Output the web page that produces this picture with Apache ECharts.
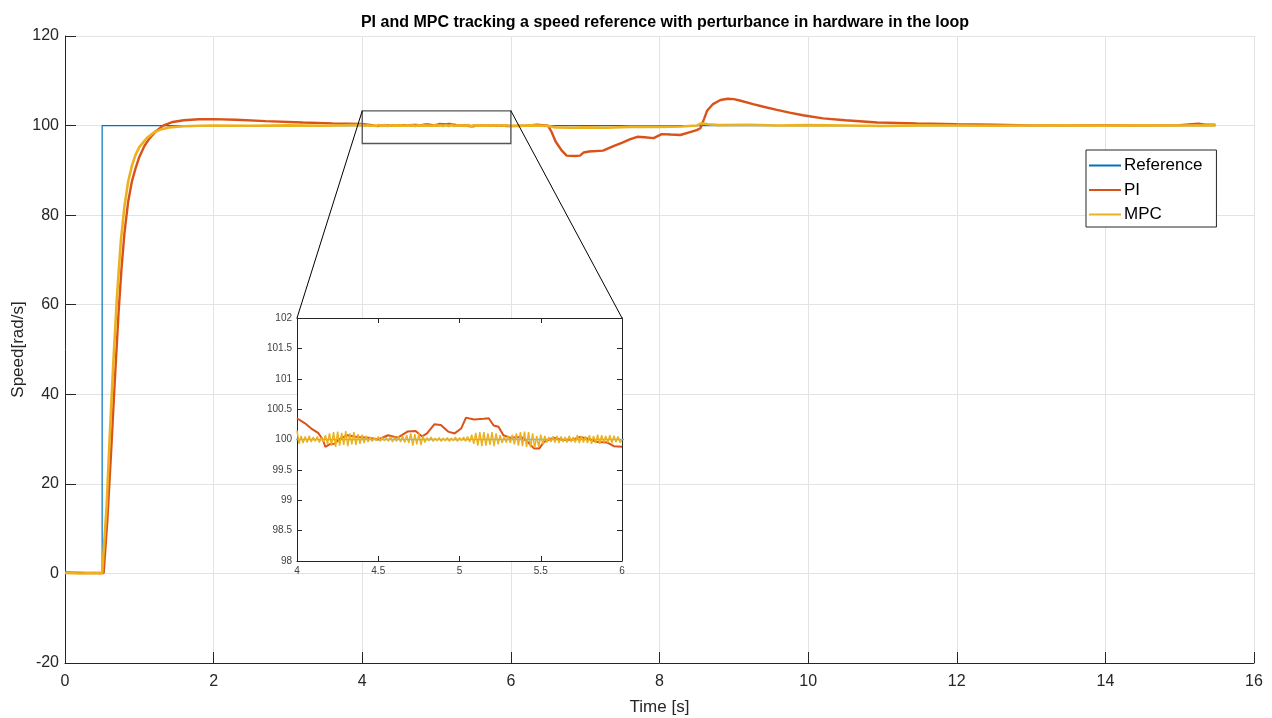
<!DOCTYPE html>
<html>
<head>
<meta charset="utf-8">
<title>PI and MPC speed tracking</title>
<script src="https://cdn.jsdelivr.net/npm/echarts@6.0.0/dist/echarts.min.js"></script>
<style>
  html, body { margin: 0; padding: 0; background: #fff; }
  #chart { width: 1272px; height: 718px; }
</style>
</head>
<body>
<div id="chart"></div>
<script>
// 曲线数据 (时间 s, 速度 rad/s)
var referenceData = [[0, 0], [0.5, 0], [0.5, 100], [15.48, 100]];

// PI 在放大区间以外的点
var piBefore = [
  [0, 0.2], [0.3, 0.1], [0.52, 0.1], [0.57, 12], [0.62, 27], [0.67, 43], [0.72, 58],
  [0.76, 68], [0.8, 76], [0.85, 83], [0.9, 87.5], [0.95, 90.5], [1.0, 93], [1.07, 95.5],
  [1.14, 97.2], [1.22, 98.7], [1.32, 100], [1.45, 100.8], [1.6, 101.2], [1.8, 101.4],
  [2.0, 101.45], [2.3, 101.3], [2.7, 101.0], [3.2, 100.7], [3.6, 100.5]
];
var piAfter = [
  [6.2, 99.95], [6.35, 100.2], [6.5, 100.0], [6.55, 98.5], [6.6, 96.5], [6.68, 94.5],
  [6.75, 93.3], [6.85, 93.2], [6.93, 93.3], [6.98, 94.0], [7.05, 94.2], [7.24, 94.4],
  [7.38, 95.4], [7.5, 96.2], [7.6, 96.9], [7.7, 97.5], [7.8, 97.4], [7.92, 97.2],
  [8.03, 98.1], [8.15, 98.0], [8.28, 97.9], [8.4, 98.5], [8.5, 99.0], [8.55, 99.4],
  [8.6, 101.5], [8.64, 103.3], [8.72, 104.8], [8.82, 105.7], [8.92, 106.0], [9.0, 105.9],
  [9.08, 105.6], [9.26, 104.8], [9.4, 104.2], [9.58, 103.5], [9.75, 102.9], [9.93, 102.3],
  [10.2, 101.6], [10.5, 101.2], [10.93, 100.7], [11.46, 100.5], [12, 100.3], [12.5, 100.2],
  [13, 100.05], [13.5, 100.1], [14, 100], [14.5, 100.05], [15, 100.1], [15.25, 100.4],
  [15.35, 100.2], [15.48, 100.2]
];
// PI 在 4~6 s 放大区间内
var piZoom = [
  [4.0, 100.35], [4.047, 100.27], [4.088, 100.18], [4.13, 100.11], [4.16, 99.99],
  [4.174, 99.88], [4.2, 99.92], [4.23, 99.93], [4.27, 100.02], [4.31, 100.07],
  [4.37, 100.04], [4.44, 100.03], [4.5, 100.0], [4.56, 100.07], [4.62, 100.03],
  [4.68, 100.13], [4.73, 100.14], [4.77, 100.05], [4.8, 100.1], [4.845, 100.25],
  [4.885, 100.24], [4.93, 100.13], [4.97, 100.1], [5.01, 100.18], [5.04, 100.36],
  [5.09, 100.33], [5.15, 100.34], [5.18, 100.35], [5.21, 100.23], [5.24, 100.21],
  [5.27, 100.07], [5.31, 100.03], [5.38, 100.04], [5.42, 99.96], [5.46, 99.85],
  [5.49, 99.85], [5.52, 99.96], [5.58, 100.03], [5.64, 99.99], [5.7, 100.0],
  [5.74, 100.04], [5.78, 100.02], [5.85, 99.96], [5.91, 99.95], [5.95, 99.89], [6.0, 99.88]
];

// MPC 在放大区间以外的点
var mpcBefore = [
  [0, 0.1], [0.2, 0], [0.4, 0.1], [0.5, 0], [0.52, 0.2], [0.56, 15], [0.6, 30],
  [0.65, 47], [0.7, 62], [0.75, 74], [0.8, 82], [0.85, 87.5], [0.9, 91], [0.95, 93.5],
  [1.0, 95.2], [1.1, 97.2], [1.2, 98.5], [1.3, 99.2], [1.4, 99.6], [1.6, 99.85],
  [1.8, 99.95], [2.0, 100], [2.5, 99.95], [3.0, 100.05], [3.5, 99.95]
];
var mpcAfter = [
  [6.3, 100.05], [6.5, 99.9], [6.6, 99.6], [6.8, 99.5], [7.0, 99.6], [7.3, 99.5],
  [7.6, 99.7], [8.0, 99.7], [8.3, 99.8], [8.5, 100.0], [8.56, 100.5], [8.65, 100.3],
  [8.8, 100.1], [9.2, 100.2], [9.6, 100], [10, 100.1], [10.5, 100], [11, 99.9],
  [11.5, 100.05], [12, 100], [12.5, 99.95], [13, 100], [13.5, 100.05], [14, 99.95],
  [14.5, 100.05], [15, 100], [15.48, 100.05]
];
// MPC 在 4~6 s 内，采样步长 0.0125 s
var mpcZoomStart = 4, mpcZoomStep = 0.0125;
var mpcZoomValues = [
  100.15, 99.93, 100.06, 99.94, 100.05, 99.95, 100.06, 99.96,
  100.04, 99.97, 100.05, 99.95, 100.03, 99.96, 100.07, 99.93,
  100.1, 99.9, 100.12, 99.88, 100.13, 99.9, 100.11, 99.91,
  100.14, 99.89, 100.1, 99.92, 100.12, 99.91, 100.09, 99.93,
  100.08, 99.94, 100.06, 99.96, 100.04, 99.97, 100.03, 99.98,
  100.05, 99.97, 100.04, 99.98, 100.03, 99.97, 100.05, 99.96,
  100.04, 99.97, 100.05, 99.96, 100.06, 99.95, 100.07, 99.94,
  100.1, 99.9, 100.09, 99.92, 100.1, 99.91, 100.06, 99.95,
  100.03, 99.98, 100.04, 99.97, 100.02, 99.98, 100.03, 99.97,
  100.02, 99.98, 100.03, 99.97, 100.02, 99.98, 100.04, 99.97,
  100.03, 99.98, 100.04, 99.97, 100.05, 99.96, 100.08, 99.93,
  100.11, 99.9, 100.12, 99.89, 100.12, 99.9, 100.1, 99.91,
  100.12, 99.89, 100.1, 99.92, 100.07, 99.94, 100.05, 99.95,
  100.06, 99.94, 100.08, 99.92, 100.1, 99.9, 100.12, 99.89,
  100.13, 99.88, 100.12, 99.87, 100.1, 99.86, 100.06, 99.88,
  100.08, 99.92, 100.06, 99.95, 100.04, 99.96, 100.05, 99.95,
  100.06, 99.94, 100.05, 99.96, 100.04, 99.95, 100.06, 99.96,
  100.04, 99.95, 100.07, 99.94, 100.06, 99.95, 100.05, 99.94,
  100.07, 99.93, 100.06, 99.94, 100.08, 99.93, 100.07, 99.95,
  100.06, 99.95, 100.07, 99.94, 100.06, 99.96, 100.05, 99.95, 100.0
];
var mpcZoom = mpcZoomValues.map(function (v, i) {
  return [+(mpcZoomStart + i * mpcZoomStep).toFixed(4), v];
});

// 刻度
var xTicks = { min: 0, max: 16, interval: 2 };
var yTicks = { min: -20, max: 120, interval: 20 };
var zoomX = { min: 4, max: 6, interval: 0.5 };
var zoomY = { min: 98, max: 102, interval: 0.5 };
// 主图上的放大框 (数据坐标)
var zoomBox = { x0: 4, x1: 6, y0: 96, y1: 103.3 };

var piData = piBefore.concat(piZoom, piAfter);
var mpcData = mpcBefore.concat(mpcZoom, mpcAfter);

var COLOR_REF = '#0072BD', COLOR_PI = '#D95319', COLOR_MPC = '#EDB120';
var FONT = 'Liberation Sans, Arial, Helvetica, sans-serif';
var AXIS_COLOR = '#262626';

var chart = echarts.init(document.getElementById('chart'));

function insetAxis(extra) {
  return Object.assign({
    type: 'value',
    gridIndex: 1,
    z: 5,
    axisLine: { show: true, onZero: false, lineStyle: { color: AXIS_COLOR, width: 1 } },
    axisTick: { show: true, inside: true, length: 5, lineStyle: { color: AXIS_COLOR } },
    axisLabel: { show: true, fontSize: 10, color: '#404040', fontFamily: FONT, margin: 5 },
    splitLine: { show: false }
  }, extra);
}

var option = {
  animation: false,
  backgroundColor: '#fff',
  title: {
    text: 'PI and MPC tracking a speed reference with perturbance in hardware in the loop',
    left: 660,
    textAlign: 'center',
    top: 10,
    textStyle: { fontFamily: FONT, fontSize: 16, fontWeight: 'bold', color: '#000' }
  },
  legend: {
    orient: 'vertical',
    left: 1086,
    top: 150,
    padding: [6, 14, 3, 3],
    icon: 'rect',
    itemWidth: 32,
    itemHeight: 2,
    itemGap: 5.5,
    backgroundColor: '#fff',
    borderColor: AXIS_COLOR,
    borderWidth: 1,
    borderRadius: 0,
    textStyle: { fontFamily: FONT, fontSize: 17, color: '#000', lineHeight: 19, padding: [0, 0, 0, -2] },
    data: ['Reference', 'PI', 'MPC']
  },
  grid: [
    { left: 65, top: 36, width: 1189, height: 627, outerBoundsMode: 'none', containLabel: false },
    { left: 297, top: 318, width: 325, height: 243, outerBoundsMode: 'none', containLabel: false }
  ],
  xAxis: [
    {
      type: 'value', gridIndex: 0,
      min: xTicks.min, max: xTicks.max, interval: xTicks.interval,
      name: 'Time [s]', nameLocation: 'middle', nameGap: 36,
      nameTextStyle: { fontFamily: FONT, fontSize: 17, color: AXIS_COLOR },
      axisLine: { show: true, onZero: false, lineStyle: { color: AXIS_COLOR, width: 1 } },
      axisTick: { show: true, inside: true, length: 11, lineStyle: { color: AXIS_COLOR } },
      axisLabel: { fontSize: 16, color: AXIS_COLOR, fontFamily: FONT, margin: 11 },
      splitLine: { show: true, lineStyle: { color: '#e3e3e3', width: 1 } }
    },
    insetAxis({ min: zoomX.min, max: zoomX.max, interval: zoomX.interval, position: 'bottom' }),
    insetAxis({ min: zoomX.min, max: zoomX.max, interval: zoomX.interval, position: 'top',
      axisLabel: { show: false } })
  ],
  yAxis: [
    {
      type: 'value', gridIndex: 0,
      min: yTicks.min, max: yTicks.max, interval: yTicks.interval,
      name: 'Speed[rad/s]', nameLocation: 'middle', nameGap: 38, nameMoveOverlap: false,
      nameTextStyle: { fontFamily: FONT, fontSize: 17, color: AXIS_COLOR },
      axisLine: { show: true, onZero: false, lineStyle: { color: AXIS_COLOR, width: 1 } },
      axisTick: { show: true, inside: true, length: 11, lineStyle: { color: AXIS_COLOR } },
      axisLabel: { fontSize: 16, color: AXIS_COLOR, fontFamily: FONT, margin: 6 },
      splitLine: { show: true, lineStyle: { color: '#e3e3e3', width: 1 } }
    },
    insetAxis({ min: zoomY.min, max: zoomY.max, interval: zoomY.interval, position: 'left' }),
    insetAxis({ min: zoomY.min, max: zoomY.max, interval: zoomY.interval, position: 'right',
      axisLabel: { show: false } })
  ],
  series: [
    // 主图
    { name: 'Reference', type: 'line', xAxisIndex: 0, yAxisIndex: 0, data: referenceData,
      symbol: 'none', lineStyle: { color: COLOR_REF, width: 1.2 }, itemStyle: { color: COLOR_REF }, z: 2 },
    { name: 'PI', type: 'line', xAxisIndex: 0, yAxisIndex: 0, data: piData,
      symbol: 'none', lineStyle: { color: COLOR_PI, width: 2.4 }, itemStyle: { color: COLOR_PI }, z: 3 },
    { name: 'MPC', type: 'line', xAxisIndex: 0, yAxisIndex: 0, data: mpcData,
      symbol: 'none', lineStyle: { color: COLOR_MPC, width: 2.6 }, itemStyle: { color: COLOR_MPC }, z: 4 },
    // 放大图
    { name: 'Reference', type: 'line', xAxisIndex: 1, yAxisIndex: 1, data: referenceData,
      symbol: 'none', clip: true, lineStyle: { color: '#4DBEEE', width: 1.5 }, z: 6 },
    { name: 'PI', type: 'line', xAxisIndex: 1, yAxisIndex: 1, data: piZoom,
      symbol: 'none', clip: true, lineStyle: { color: COLOR_PI, width: 2 }, z: 7 },
    { name: 'MPC', type: 'line', xAxisIndex: 1, yAxisIndex: 1, data: mpcZoom,
      symbol: 'none', clip: true, lineStyle: { color: COLOR_MPC, width: 1.5 }, z: 8 }
  ]
};
chart.setOption(option);

// 放大框、连线和放大图白底
var p00 = chart.convertToPixel({ gridIndex: 0 }, [zoomBox.x0, zoomBox.y1]);
var p11 = chart.convertToPixel({ gridIndex: 0 }, [zoomBox.x1, zoomBox.y0]);
var p10 = chart.convertToPixel({ gridIndex: 0 }, [zoomBox.x1, zoomBox.y1]);
var i0 = chart.convertToPixel({ xAxisIndex: 1, yAxisIndex: 1 }, [zoomX.min, zoomY.max]);
var i1 = chart.convertToPixel({ xAxisIndex: 1, yAxisIndex: 1 }, [zoomX.max, zoomY.min]);
var i2 = chart.convertToPixel({ xAxisIndex: 1, yAxisIndex: 1 }, [zoomX.max, zoomY.max]);

chart.setOption({
  graphic: [
    { type: 'rect', z: 1, silent: true,
      shape: { x: i0[0], y: i0[1], width: i1[0] - i0[0], height: i1[1] - i0[1] },
      style: { fill: '#fff', stroke: null } },
    { type: 'rect', z: 9, silent: true,
      shape: { x: p00[0], y: p00[1], width: p11[0] - p00[0], height: p11[1] - p00[1] },
      style: { fill: null, stroke: '#555', lineWidth: 1.3 } },
    { type: 'line', z: 9, silent: true,
      shape: { x1: p00[0], y1: p00[1], x2: i0[0], y2: i0[1] },
      style: { stroke: '#000', lineWidth: 1 } },
    { type: 'line', z: 9, silent: true,
      shape: { x1: p10[0], y1: p10[1], x2: i2[0], y2: i2[1] },
      style: { stroke: '#000', lineWidth: 1 } }
  ]
});
</script>
</body>
</html>
